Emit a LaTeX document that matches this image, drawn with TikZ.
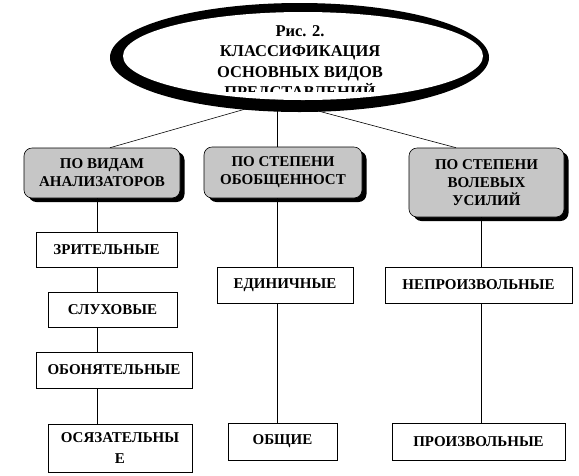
\documentclass[tikz,border=0pt]{standalone}
\usepackage{fontspec}
\setmainfont{Liberation Serif}
\usetikzlibrary{shadows}
\definecolor{boxgray}{RGB}{198,198,198}
\tikzset{
  topbox/.style={draw=black, line width=0.6pt, fill=boxgray, rounded corners=8pt,
    drop shadow={shadow xshift=4.5pt, shadow yshift=-4pt, fill=black, opacity=1},
    align=center, inner sep=0pt, font=\fontsize{15}{18}\selectfont\bfseries},
  leafbox/.style={draw=black, line width=0.6pt, fill=white,
    drop shadow={shadow xshift=1pt, shadow yshift=-1pt, fill=black!60, opacity=1},
    align=center, inner sep=0pt, font=\fontsize{15}{21}\selectfont\bfseries},
  conn/.style={draw=black, line width=0.6pt}
}
\begin{document}
\begin{tikzpicture}[x=1pt,y=-1pt]
\useasboundingbox (0,0) rectangle (579,475);
% title ellipse with shadow
\fill[black] (299.5,57.5) ellipse (189.5pt and 54.5pt);
\fill[white] (303,56) ellipse (180pt and 44pt);
\begin{scope}
  \clip (120,10) rectangle (485,91);
  \node[align=center, inner sep=0pt, anchor=north,
        font=\fontsize{16.5}{20.5}\selectfont\bfseries] (title) at (300,25)
    {Рис. 2.\\КЛАССИФИКАЦИЯ\\ОСНОВНЫХ ВИДОВ\\ПРЕДСТАВЛЕНИЙ};
\end{scope}
\coordinate (apex) at (277,100);
% top-level boxes
\node[topbox, minimum width=156pt, minimum height=50pt] (b1) at (102,173) {ПО ВИДАМ\\АНАЛИЗАТОРОВ};
\node[topbox, minimum width=158pt, minimum height=51pt] (b2) at (283,172.5) {ПО СТЕПЕНИ\\ОБОБЩЕННОСТ};
\node[topbox, minimum width=155pt, minimum height=69pt] (b3) at (486.5,182.5) {ПО СТЕПЕНИ\\ВОЛЕВЫХ\\УСИЛИЙ};
% leaf boxes
\node[leafbox, minimum width=141pt, minimum height=35pt] (l1) at (106.5,249.5) {ЗРИТЕЛЬНЫЕ};
\node[leafbox, minimum width=129pt, minimum height=35pt] (l2) at (112.5,309.5) {СЛУХОВЫЕ};
\node[leafbox, minimum width=156pt, minimum height=36pt] (l3) at (114,370) {ОБОНЯТЕЛЬНЫЕ};
\node[leafbox, minimum width=144pt, minimum height=48pt] (l4) at (120,448) {ОСЯЗАТЕЛЬНЫ\\Е};
\node[leafbox, minimum width=136pt, minimum height=36pt] (m1) at (285,285) {ЕДИНИЧНЫЕ};
\node[leafbox, minimum width=109pt, minimum height=37pt] (m2) at (282.5,441.5) {ОБЩИЕ};
\node[leafbox, minimum width=187pt, minimum height=36pt] (r1) at (478.5,285) {НЕПРОИЗВОЛЬНЫЕ};
\node[leafbox, minimum width=173pt, minimum height=37pt] (r2) at (478.5,441.5) {ПРОИЗВОЛЬНЫЕ};
% connector columns
\coordinate (L) at (97,0);
\coordinate (M) at (277,0);
\coordinate (R) at (481,0);
\coordinate (LT) at (110,0);
\coordinate (RT) at (456,0);
% connectors from title
\draw[conn] (apex) -- (b1.north -| LT);
\draw[conn] (apex) -- (b2.north -| M);
\draw[conn] (apex) -- (b3.north -| RT);
% left column
\draw[conn] (b1.south -| L) -- (l1.north -| L);
\draw[conn] (l1.south -| L) -- (l2.north -| L);
\draw[conn] (l2.south -| L) -- (l3.north -| L);
\draw[conn] (l3.south -| L) -- (l4.north -| L);
% middle column
\draw[conn] (b2.south -| M) -- (m1.north -| M);
\draw[conn] (m1.south -| M) -- (m2.north -| M);
% right column
\draw[conn] (b3.south -| R) -- (r1.north -| R);
\draw[conn] (r1.south -| R) -- (r2.north -| R);
\end{tikzpicture}
\end{document}
